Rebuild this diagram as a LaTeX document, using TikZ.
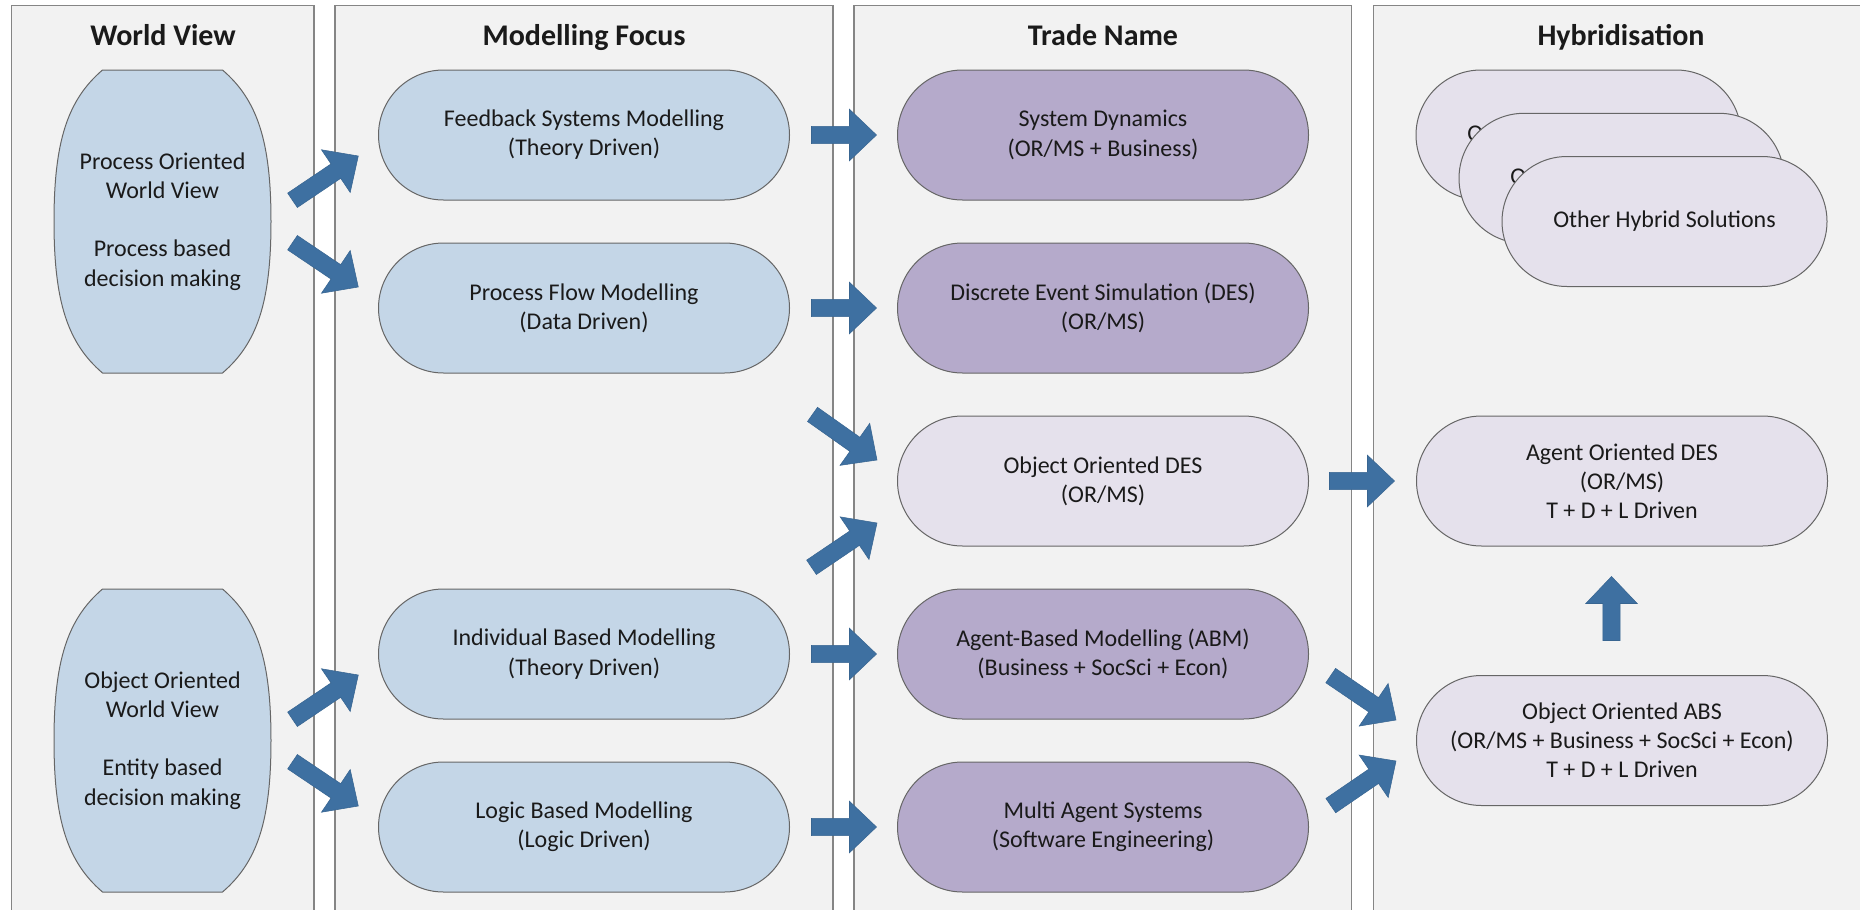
\documentclass[tikz,border=0pt]{standalone}
\usepackage{fontspec}
\setmainfont{Carlito}
\usetikzlibrary{shapes.misc,calc}

\definecolor{colfill}{HTML}{F2F2F2}
\definecolor{colline}{HTML}{858585}
\definecolor{bluefill}{HTML}{C4D6E7}
\definecolor{purplefill}{HTML}{B5AACB}
\definecolor{lilacfill}{HTML}{E5E1EC}
\definecolor{nodeline}{HTML}{666666}
\definecolor{arrowfill}{HTML}{3E70A1}
\definecolor{arrowline}{HTML}{386591}
\definecolor{textcol}{HTML}{1A1A1A}

% block arrow from #1 (tail) to #2 (tip)
\newcommand\blockarrow[2]{%
  \filldraw[arrowbody] let \p1=(#1), \p2=(#2),
      \n1={atan2(\y2-\y1,\x2-\x1)},
      \n2={veclen(\x2-\x1,\y2-\y1)-20.25pt} in
    ($(\p1)+(\n1+90:6.5pt)$)
    -- ($(\p1)+(\n1:\n2)+(\n1+90:6.5pt)$)
    -- ($(\p1)+(\n1:\n2)+(\n1+90:19.3pt)$)
    -- (\p2)
    -- ($(\p1)+(\n1:\n2)+(\n1-90:19.3pt)$)
    -- ($(\p1)+(\n1:\n2)+(\n1-90:6.5pt)$)
    -- ($(\p1)+(\n1-90:6.5pt)$)
    -- cycle;}

% barrel outline (flat top and bottom, bulging sides) around a centre point
\newcommand\barrel[1]{%
  \filldraw[barrelbody] ($(#1)+(-60,-151.5)$) -- ($(#1)+(60,-151.5)$)
    .. controls +(35,30) and +(0,-80) .. ($(#1)+(108.5,0)$)
    .. controls +(0,80) and +(35,-30) .. ($(#1)+(60,151.5)$)
    -- ($(#1)+(-60,151.5)$)
    .. controls +(-35,-30) and +(0,80) .. ($(#1)+(-108.5,0)$)
    .. controls +(0,-80) and +(-35,30) .. ($(#1)+(-60,-151.5)$)
    -- cycle;}

\begin{document}
\begin{tikzpicture}[x=0.75pt,y=-0.75pt,
  every node/.style={text=textcol},
  column/.style={fill=colfill,draw=colline,line width=0.9pt},
  header/.style={font=\fontsize{22.5pt}{27pt}\selectfont\bfseries,anchor=base,inner sep=0pt},
  body/.style={font=\fontsize{18pt}{21.9pt}\selectfont,align=center},
  pill/.style={body,rounded rectangle,draw=nodeline,line width=0.75pt,
    minimum width=308.25pt,minimum height=97.5pt,inner sep=0pt},
  bluepill/.style={pill,fill=bluefill},
  purplepill/.style={pill,fill=purplefill},
  lilacpill/.style={pill,fill=lilacfill},
  smallpill/.style={lilacpill,minimum width=243.75pt},
  wvtext/.style={body,minimum width=162.75pt,minimum height=227.25pt,inner sep=0pt},
  barrelbody/.style={fill=bluefill,draw=nodeline,line width=0.75pt},
  arrowbody/.style={fill=arrowfill,draw=arrowline,line width=0.4pt,line join=miter}]

\useasboundingbox (0,0) rectangle (1860,910);
\clip (0,0) rectangle (1860,910);
\fill[white] (0,0) rectangle (1860,910);

% columns
\draw[column] (11.7,5.3) rectangle (314,920);
\draw[column] (335,5.3) rectangle (833,920);
\draw[column] (854,5.3) rectangle (1351.7,920);
\draw[column] (1373.3,5.3) rectangle (1875,920);

% column titles
\node[header] (h1) at (163,45) {World View};
\node[header] (h2) at (584,45) {Modelling Focus};
\node[header] (h3) at (1103,45) {Trade Name};
\node[header] (h4) at (1621,45) {Hybridisation};

% world views
\barrel{162.5,221.5}
\barrel{162.5,740.5}
\node[wvtext] (wv1) at (162.5,221.5) {Process Oriented\\World View\\[21.9pt]Process based\\decision making};
\node[wvtext] (wv2) at (162.5,740.5) {Object Oriented\\World View\\[21.9pt]Entity based\\decision making};

% modelling focus
\node[bluepill] (fb) at (584,135) {Feedback Systems Modelling\\(Theory Driven)};
\node[bluepill] (pf) at (584,308) {Process Flow Modelling\\(Data Driven)};
\node[bluepill] (ib) at (584,654) {Individual Based Modelling\\(Theory Driven)};
\node[bluepill] (lb) at (584,827) {Logic Based Modelling\\(Logic Driven)};

% trade names
\node[purplepill] (sd) at (1103,135) {System Dynamics\\(OR/MS + Business)};
\node[purplepill] (des) at (1103,308) {Discrete Event Simulation (DES)\\(OR/MS)};
\node[lilacpill] (ood) at (1103,481) {Object Oriented DES\\(OR/MS)};
\node[purplepill] (abm) at (1103,654) {Agent-Based Modelling (ABM)\\(Business + SocSci + Econ)};
\node[purplepill] (mas) at (1103,827) {Multi Agent Systems\\(Software Engineering)};

% hybridisation
\node[smallpill] (oh1) at (1578.5,135) {Other Hybrid Solutions};
\node[smallpill] (oh2) at (1621.5,178.3) {Other Hybrid Solutions};
\node[smallpill] (oh3) at (1664.5,221.5) {Other Hybrid Solutions};
\node[lilacpill] (aod) at (1622,481) {Agent Oriented DES\\(OR/MS)\\T + D + L Driven};
\node[lilacpill] (ooabs) at (1622,740.5) {Object Oriented ABS\\(OR/MS + Business + SocSci + Econ)\\T + D + L Driven};

% arrow end points
\coordinate (a1t) at ($(wv1.center)+(130,-21.2)$);   \coordinate (a1h) at ($(wv1.center)+(195.8,-65.5)$);
\coordinate (a2t) at ($(wv1.center)+(130,21.2)$);    \coordinate (a2h) at ($(wv1.center)+(195.8,65.5)$);
\coordinate (a3t) at ($(wv2.center)+(130,-21.2)$);   \coordinate (a3h) at ($(wv2.center)+(195.8,-65.5)$);
\coordinate (a4t) at ($(wv2.center)+(130,21.2)$);    \coordinate (a4h) at ($(wv2.center)+(195.8,65.5)$);
\coordinate (a5t) at ($(fb.east)+(21.5,0)$);         \coordinate (a5h) at ($(sd.west)+(-20.5,0)$);
\coordinate (a6t) at ($(pf.east)+(21.5,0)$);         \coordinate (a6h) at ($(des.west)+(-20.5,0)$);
\coordinate (a7t) at ($(ood.center)+(-290.5,-66.6)$); \coordinate (a7h) at ($(ood.center)+(-226,-21)$);
\coordinate (a8t) at ($(ood.center)+(-291.5,86.3)$);  \coordinate (a8h) at ($(ood.center)+(-226,42)$);
\coordinate (a9t) at ($(ib.east)+(21.5,0)$);         \coordinate (a9h) at ($(abm.west)+(-20.5,0)$);
\coordinate (a10t) at ($(lb.east)+(21.5,0)$);        \coordinate (a10h) at ($(mas.west)+(-20.5,0)$);
\coordinate (a11t) at ($(ood.east)+(20.5,0)$);       \coordinate (a11h) at ($(aod.west)+(-21.5,0)$);
\coordinate (a12t) at ($(ooabs.center)+(-291.3,-64.9)$); \coordinate (a12h) at ($(ooabs.center)+(-226,-20.5)$);
\coordinate (a13t) at ($(ooabs.center)+(-291.2,65.1)$);  \coordinate (a13h) at ($(ooabs.center)+(-226,20.5)$);
\coordinate (a14t) at ($(ooabs.north)+(-10.5,-34.5)$); \coordinate (a14h) at ($(aod.south)+(-10.5,30)$);

% arrows
\blockarrow{a1t}{a1h}
\blockarrow{a2t}{a2h}
\blockarrow{a3t}{a3h}
\blockarrow{a4t}{a4h}
\blockarrow{a5t}{a5h}
\blockarrow{a6t}{a6h}
\blockarrow{a7t}{a7h}
\blockarrow{a8t}{a8h}
\blockarrow{a9t}{a9h}
\blockarrow{a10t}{a10h}
\blockarrow{a11t}{a11h}
\blockarrow{a12t}{a12h}
\blockarrow{a13t}{a13h}
\blockarrow{a14t}{a14h}
\end{tikzpicture}
\end{document}
